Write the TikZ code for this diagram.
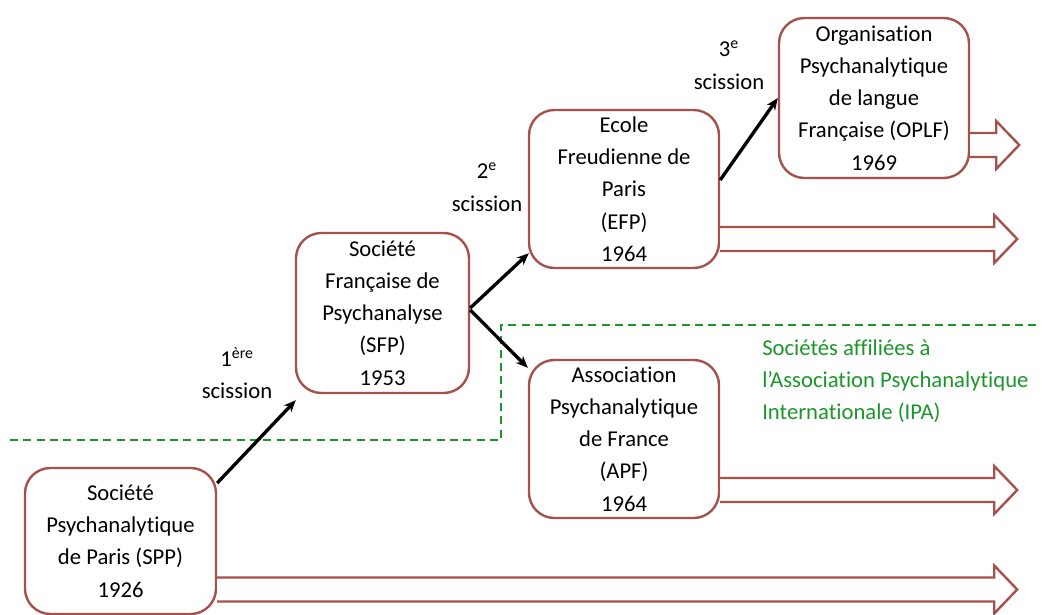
\documentclass[tikz,border=0pt]{standalone}
\usepackage{fontspec}
\setmainfont{Carlito}[Ligatures=NoCommon]
\usetikzlibrary{arrows.meta}
\definecolor{boxbrown}{RGB}{165,82,77}
\definecolor{ipagreen}{RGB}{28,150,42}
\tikzset{
  orgbox/.style={draw=boxbrown, line width=1.8pt, rounded corners=19pt, fill=white,
    inner sep=0pt, align=center, font=\fontsize{17}{24.2}\selectfont},
  lbl/.style={inner sep=0pt, align=center, font=\fontsize{17}{24.2}\selectfont},
  greenlbl/.style={inner sep=0pt, align=left, text=ipagreen, font=\fontsize{17}{24}\selectfont},
  splitarrow/.style={line width=2.5pt, -{Stealth[length=9pt,width=7.5pt]}},
  hollow/.style={draw=boxbrown, line width=1.8pt, fill=white, line join=miter},
  ipaline/.style={draw=ipagreen, line width=1.8pt, dash pattern=on 6pt off 4pt}
}
\newcommand\hollowarr[2]{\draw[hollow] #1 -- ++(#2,0) -- ++(0,-12) -- ++(23,24) -- ++(-23,24) -- ++(0,-12) -- ++(-#2,0);}
\begin{document}
\begin{tikzpicture}[x=0.75pt,y=-0.75pt]
\useasboundingbox (0,0) rectangle (1042,614);
% IPA boundary
\coordinate (g1) at (10,440);
\coordinate (g2) at (501,440);
\coordinate (g3) at (501,325);
\coordinate (g4) at (1040,325);
\draw[ipaline] (g1) -- (g2) -- (g3) -- (g4);
% boxes
\node[orgbox, minimum width=191*0.75pt, minimum height=146*0.75pt] (spp) at (120.5,541)
  {Société\\Psychanalytique\\de Paris (SPP)\\1926};
\node[orgbox, minimum width=173*0.75pt, minimum height=160*0.75pt] (sfp) at (382.5,313)
  {Société\\Française de\\Psychanalyse\\(SFP)\\1953};
\node[orgbox, minimum width=190*0.75pt, minimum height=158*0.75pt] (efp) at (624,189)
  {Ecole\\Freudienne de\\Paris\\(EFP)\\1964};
\node[orgbox, minimum width=190*0.75pt, minimum height=158*0.75pt] (apf) at (624,439)
  {Association\\Psychanalytique\\de France\\(APF)\\1964};
\node[orgbox, minimum width=190*0.75pt, minimum height=160*0.75pt] (oplf) at (874,98)
  {Organisation\\Psychanalytique\\de langue\\Française (OPLF)\\1969};
% hollow continuation arrows
\hollowarr{([shift={(0,36.5)}]spp.east)}{777}
\hollowarr{([shift={(0,39)}]apf.east)}{274}
\hollowarr{([shift={(0,38)}]efp.east)}{274}
\hollowarr{([shift={(0,35)}]oplf.east)}{26}
% scission arrows
\draw[splitarrow] ([shift={(0,-58)}]spp.east) -- ([shift={(1,6)}]sfp.south west);
\draw[splitarrow] ([shift={(0,-5)}]sfp.east) -- ([shift={(1,-16)}]efp.south west);
\draw[splitarrow] ([shift={(0,-3)}]sfp.east) -- ([shift={(0,9)}]apf.north west);
\draw[splitarrow] ([shift={(0,-9)}]efp.east) -- (oplf.west);
% labels
\node[lbl] (l1) at (237,373) {1\textsuperscript{ère}\\scission};
\node[lbl] (l2) at (487,187) {2\textsuperscript{e}\\scission};
\node[lbl] (l3) at (729,65) {3\textsuperscript{e}\\scission};
\node[greenlbl, anchor=west] (ipa) at (762,381.5)
  {Sociétés affiliées à\\l’Association Psychanalytique\\Internationale (IPA)};
\end{tikzpicture}
\end{document}
